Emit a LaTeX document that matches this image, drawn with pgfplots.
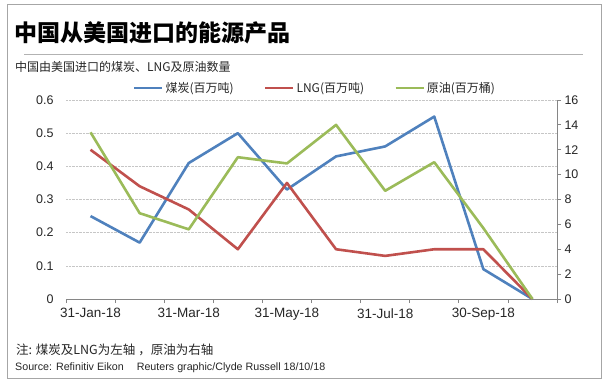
\documentclass[border=0pt]{standalone}
\usepackage{fontspec}
\setmainfont{Liberation Sans}
\newfontfamily\cjk{Noto Sans CJK SC}
\usepackage{pgfplots}
\pgfplotsset{compat=1.18}
\definecolor{cblue}{HTML}{4F81BD}
\definecolor{cred}{HTML}{C0504D}
\definecolor{cgreen}{HTML}{9BBB59}
\definecolor{framegray}{HTML}{A6A6A6}
\definecolor{axgray}{HTML}{868686}
\definecolor{txt}{HTML}{262626}
\begin{document}
\begin{tikzpicture}[x=1pt,y=1pt]
\path[use as bounding box] (0,0) rectangle (609,384);
\draw[framegray, line width=1pt] (7,6) rectangle (601,379);
\node[anchor=west, inner sep=0pt, font=\cjk\bfseries\fontsize{23}{26}\selectfont] at (14,351) {中国从美国进口的能源产品};
\draw[gray!60, line width=0.8pt] (24,330) -- (583,330);
\node[anchor=west, inner sep=0pt, text=txt, font=\cjk\fontsize{12}{14}\selectfont] at (15,317) {中国由美国进口的煤炭、LNG及原油数量};
\node[anchor=west, inner sep=0pt, text=txt, font=\cjk\fontsize{12.5}{14}\selectfont] at (16,34) {注: 煤炭及LNG为左轴\hspace{3pt}，原油为右轴};
\node[anchor=west, inner sep=0pt, text=txt, font=\fontsize{10.7}{12}\selectfont] at (15,16) {Source: Refinitiv Eikon\hspace{13pt}Reuters graphic/Clyde Russell 18/10/18};
\begin{axis}[
  at={(66pt,85pt)}, anchor=south west,
  scale only axis, width=491pt, height=199pt,
  xmin=0, xmax=10, ymin=0, ymax=0.6,
  axis x line*=bottom, axis y line*=left,
  x axis line style={axgray, -, line width=0.8pt},
  y axis line style={draw=none},
  xtick={0.5,2.5,4.5,6.5,8.5},
  xticklabels={31-Jan-18,31-Mar-18,31-May-18,31-Jul-18,30-Sep-18},
  major x tick style={draw=none},
  minor xtick={0,1,...,10},
  minor x tick style={axgray, line width=0.8pt},
  tick align=outside,
  major tick length=4pt, minor tick length=4pt,
  ytick={0,0.1,0.2,0.3,0.4,0.5,0.6},
  ytick style={draw=none},
  yticklabel style={/pgf/number format/fixed, /pgf/number format/precision=1, xshift=-5pt},
  ymajorgrids, major grid style={densely dotted, gray!45, line width=0.6pt},
  /pgf/number format/assume math mode=true,
  ticklabel style={font=\fontsize{12.5}{14}\selectfont, text=txt},
  xticklabel style={yshift=-2pt, font=\fontsize{13.5}{15}\selectfont},
  legend columns=3,
  legend style={at={(0.507,1.06)}, anchor=center, draw=none, fill=none,
    font=\cjk\fontsize{12}{14}\selectfont, text=txt,
    /tikz/every even column/.append style={column sep=28pt},
    inner sep=0pt},
  legend image code/.code={\draw[#1, line width=2.8pt] (0pt,0pt) -- (28pt,0pt);},
  legend cell align=left,
  clip=false,
]
\addplot[cblue, line width=2.6pt, line join=round] coordinates {
 (0.5,0.25) (1.5,0.17) (2.5,0.41) (3.5,0.50) (4.5,0.33) (5.5,0.43) (6.5,0.46) (7.5,0.55) (8.5,0.09) (9.5,0)};
\addlegendentry{煤炭(百万吨)}
\addplot[cred, line width=2.6pt, line join=round] coordinates {
 (0.5,0.45) (1.5,0.34) (2.5,0.27) (3.5,0.15) (4.5,0.35) (5.5,0.15) (6.5,0.13) (7.5,0.15) (8.5,0.15) (9.5,0)};
\addlegendentry{LNG(百万吨)}
\addlegendimage{cgreen}
\addlegendentry{原油(百万桶)}
\end{axis}
\begin{axis}[
  at={(66pt,85pt)}, anchor=south west,
  scale only axis, width=491pt, height=199pt,
  xmin=0, xmax=10, ymin=0, ymax=16,
  axis x line=none, axis y line*=right,
  y axis line style={axgray, -, line width=0.8pt},
  ytick={0,2,...,16},
  ytick style={axgray, line width=0.8pt},
  tick align=outside, major tick length=4pt,
  /pgf/number format/assume math mode=true,
  ticklabel style={font=\fontsize{12.5}{14}\selectfont, text=txt},
]
\addplot[cgreen, line width=2.6pt, line join=round] coordinates {
 (0.5,13.4) (1.5,6.9) (2.5,5.6) (3.5,11.4) (4.5,10.9) (5.5,14.0) (6.5,8.7) (7.5,11.0) (8.5,5.7) (9.5,0)};
\end{axis}
\end{tikzpicture}
\end{document}
